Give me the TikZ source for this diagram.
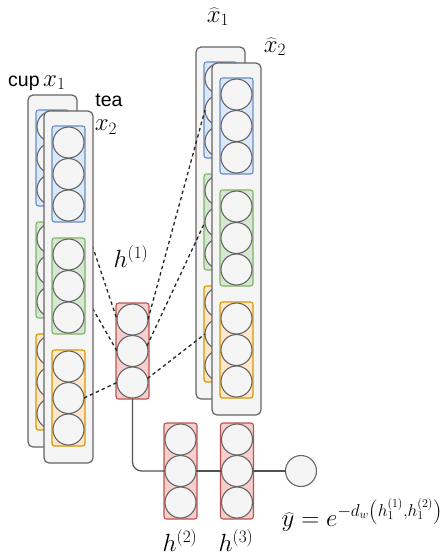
\documentclass[tikz,border=0pt]{standalone}
\usepackage{fontspec}
\setmainfont{Liberation Sans}
\definecolor{pfill}{HTML}{F5F5F5}
\definecolor{pdraw}{HTML}{666666}
\definecolor{bfill}{HTML}{DAE8FC}\definecolor{bdraw}{HTML}{6C8EBF}
\definecolor{gfill}{HTML}{D5E8D4}\definecolor{gdraw}{HTML}{82B366}
\definecolor{ofill}{HTML}{FFE6CC}\definecolor{odraw}{HTML}{D79B00}
\definecolor{rfill}{HTML}{F8CECC}\definecolor{rdraw}{HTML}{B85450}
\tikzset{
  panel/.style={draw=pdraw, fill=pfill, rounded corners=5pt, line width=1.2pt, minimum width=49pt, minimum height=352pt, inner sep=0pt, outer sep=0pt},
  grp/.style={rounded corners=2.5pt, line width=1.1pt, minimum width=33pt, minimum height=96pt, inner sep=0pt, outer sep=0pt},
  neuron/.style={circle, draw=pdraw, fill=pfill, line width=1.1pt, minimum size=31pt, inner sep=0pt, outer sep=0pt},
  dline/.style={draw=black!85, line width=1.3pt, dash pattern=on 3.5pt off 3pt},
  conn/.style={draw=pdraw!80!black, line width=1.2pt},
  lab/.style={inner sep=0pt, font=\fontsize{19.5}{22}\selectfont},
  mlab/.style={inner sep=0pt, font=\fontsize{23}{26}\selectfont},
  flab/.style={inner sep=0pt, font=\fontsize{23.5}{26}\selectfont}
}
\newcommand\panelstack[3]{%
  \node[panel, anchor=north west] (#1) at (#2,#3) {};
  \foreach \g/\fc/\dc [count=\gi] in {0/bfill/bdraw,112/gfill/gdraw,224/ofill/odraw}{
    \node[grp, fill=\fc, draw=\dc, anchor=north west] (#1g\gi) at ({#2+8},{#3+15+\g}) {};
    \foreach \k in {1,2,3}{
      \node[neuron] (#1g\gi c\k) at ({#2+24.5},{#3+15+\g+16.5+(\k-1)*31.5}) {};
    }
  }
}
\newcommand\hstack[3]{%
  \node[grp, fill=rfill, draw=rdraw, anchor=north] (#1) at (#2,#3) {};
  \foreach \k in {1,2,3}{
    \node[neuron] (#1c\k) at (#2,{#3+16.5+(\k-1)*31.5}) {};
  }
}
\begin{document}
\begin{tikzpicture}[x=1pt,y=-1pt]
\useasboundingbox (0,0) rectangle (442,557);
% back panels
\panelstack{xa}{28}{95}
\panelstack{xha}{196}{47}
% hidden layer h1
\hstack{ha}{132.5}{303}
% lines from x1 (behind x2)
\draw[dline] (xag1c1) -- (hac1.west);
\draw[dline] (xag2c1) -- (hac2.west);
% front panels
\panelstack{xb}{44}{111}
\panelstack{xhb}{212}{63}
% remaining dashed lines
\draw[dline] (xbg3c2.east) -- (hac3.west);
\draw[dline] (hac1.east) -- (xhag1c2.west);
\draw[dline] (hac2.20) -- (xhag2c2.west);
\draw[dline] (hac3.15) -- (xhag3c2.west);
% lower layers
\hstack{hb}{180.5}{423}
\hstack{hc}{237}{423}
\node[neuron] (out) at (301,471) {};
\draw[conn, rounded corners=9pt] (ha.south) |- (hbc2.west);
\draw[conn] (hbc2) -- (hcc2);
\draw[conn] (hcc2) -- (out);
% labels
\node[lab, anchor=base west] (lcup) at (8,86) {cup};
\node[mlab, anchor=base west] (lx1) at (43,86) {$x_1$};
\node[lab] (ltea) at (109,100) {tea};
\node[mlab] (lx2) at (106,127) {$x_2$};
\node[mlab] (lxh1) at (218,17) {$\widehat{x}_1$};
\node[mlab] (lxh2) at (275,47) {$\widehat{x}_2$};
\node[mlab] (lh1) at (131,257) {$h^{(1)}$};
\node[mlab] (lh2) at (180,541) {$h^{(2)}$};
\node[mlab] (lh3) at (236,541) {$h^{(3)}$};
\node[flab] (lf) at (362,515) {$\widehat{y} = e^{-d_w\left(h_1^{(1)},h_1^{(2)}\right)}$};
\end{tikzpicture}
\end{document}
